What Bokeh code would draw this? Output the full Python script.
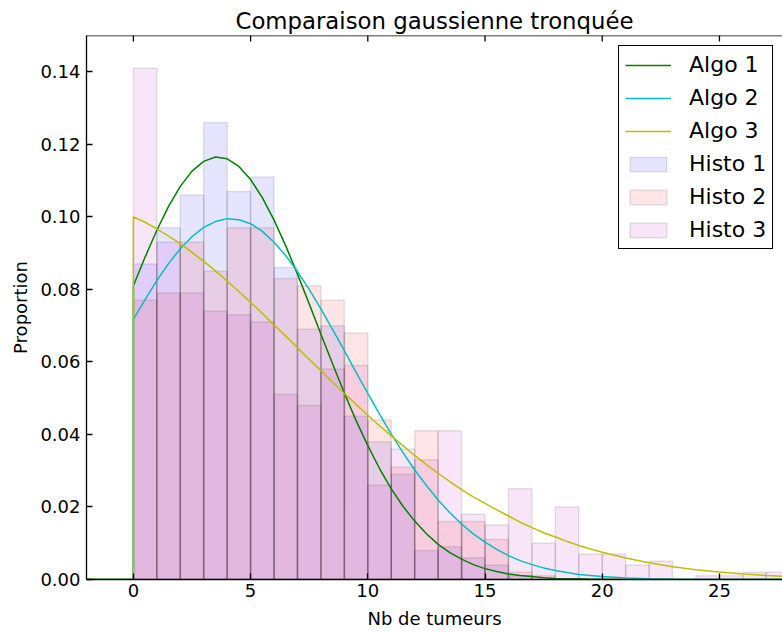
from bokeh.plotting import figure
from bokeh.models import (Range1d, Legend, LegendItem, FixedTicker,
                          PrintfTickFormatter, ColumnDataSource, Span)
from bokeh.embed import file_html
from bokeh.resources import INLINE

# ---------------- data ----------------
bin_edges = list(range(0, 29))

histo1 = [0.087, 0.097, 0.106, 0.126, 0.107, 0.111, 0.086, 0.069, 0.070, 0.045,
          0.038, 0.029, 0.008, 0.009, 0.006, 0.004, 0.001]
histo2 = [0.077, 0.079, 0.093, 0.085, 0.097, 0.097, 0.083, 0.081, 0.077, 0.068,
          0.044, 0.031, 0.041, 0.016, 0.016, 0.011, 0.002, 0.001]
histo3 = [0.141, 0.093, 0.079, 0.074, 0.073, 0.071, 0.051, 0.048, 0.058, 0.059,
          0.026, 0.036, 0.033, 0.041, 0.018, 0.015, 0.025, 0.010, 0.020, 0.007,
          0.007, 0.004, 0.005, 0.000, 0.001, 0.001, 0.002, 0.002]

curve_x = [-2.0, 0.0, 0.0, 0.5, 1.0, 1.5, 2.0, 2.5, 3.0, 3.5, 4.0, 4.5, 5.0, 5.5,
           6.0, 6.5, 7.0, 7.5, 8.0, 8.5, 9.0, 9.5, 10.0, 10.5, 11.0, 11.5, 12.0,
           12.5, 13.0, 13.5, 14.0, 14.5, 15.0, 15.5, 16.0, 16.5, 17.0, 17.5, 18.0,
           18.5, 19.0, 19.5, 20.0, 21.0, 22.0, 23.0, 24.0, 25.0, 26.0, 27.0, 28.0]
algo1 = [0.0, 0.0, 0.0810, 0.0889, 0.0963, 0.1029, 0.1084, 0.1126, 0.1153, 0.1165,
         0.1160, 0.1139, 0.1103, 0.1053, 0.0991, 0.0920, 0.0842, 0.0760, 0.0676,
         0.0594, 0.0514, 0.0438, 0.0369, 0.0306, 0.0250, 0.0202, 0.0161, 0.0126,
         0.0097, 0.0074, 0.0056, 0.0041, 0.0030, 0.0022, 0.0015, 0.0011, 0.0008,
         0.0005, 0.0003, 0.0002, 0.0002, 0.0001, 0.0001, 0.0, 0.0, 0.0, 0.0, 0.0,
         0.0, 0.0, 0.0]
algo2 = [0.0, 0.0, 0.0717, 0.0772, 0.0824, 0.0871, 0.0912, 0.0945, 0.0971, 0.0987,
         0.0995, 0.0992, 0.0981, 0.0960, 0.0930, 0.0893, 0.0849, 0.0800, 0.0746,
         0.0689, 0.0631, 0.0571, 0.0513, 0.0456, 0.0401, 0.0350, 0.0302, 0.0259,
         0.0219, 0.0184, 0.0153, 0.0126, 0.0103, 0.0083, 0.0066, 0.0052, 0.0041,
         0.0032, 0.0025, 0.0019, 0.0014, 0.0011, 0.0008, 0.0004, 0.0002, 0.0001,
         0.0, 0.0, 0.0, 0.0, 0.0]
algo3 = [0.0, 0.0, 0.1000, 0.0985, 0.0967, 0.0947, 0.0926, 0.0902, 0.0877, 0.0851,
         0.0823, 0.0794, 0.0764, 0.0734, 0.0702, 0.0671, 0.0639, 0.0607, 0.0576,
         0.0544, 0.0513, 0.0483, 0.0453, 0.0424, 0.0396, 0.0369, 0.0342, 0.0317,
         0.0293, 0.0270, 0.0248, 0.0228, 0.0210, 0.0192, 0.0175, 0.0158, 0.0143,
         0.0129, 0.0117, 0.0105, 0.0094, 0.0084, 0.0075, 0.0059, 0.0046, 0.0035,
         0.0027, 0.0021, 0.0015, 0.0011, 0.0008]

x_ticks = [0, 5, 10, 15, 20, 25]
y_ticks = [0.0, 0.02, 0.04, 0.06, 0.08, 0.10, 0.12, 0.14]
y_max = 0.15

title_text = "Comparaison gaussienne tronquée"
x_label = "Nb de tumeurs"
y_label = "Proportion"
series_labels = ["Algo 1", "Algo 2", "Algo 3", "Histo 1", "Histo 2", "Histo 3"]

FONT = "DejaVu Sans"

# ---------------- figure ----------------
p = figure(width=782, height=633, x_range=Range1d(-2, 27.69), y_range=Range1d(0, y_max),
           output_backend="svg", toolbar_location=None,
           min_border_left=86, min_border_right=0, min_border_top=35, min_border_bottom=54,
           title=title_text)
p.outline_line_color = None
p.grid.visible = False
p.background_fill_color = "white"

p.title.align = "center"
p.title.offset = 4
p.title.text_font = FONT
p.title.text_font_size = "22.8px"
p.title.text_font_style = "normal"
p.title.text_color = "black"
p.title.standoff = 4


def hist_source(vals):
    return ColumnDataSource(dict(left=bin_edges[:len(vals)],
                                 right=bin_edges[1:len(vals) + 1],
                                 top=vals, bottom=[0.0] * len(vals)))


hist_colors = ["#0000ff", "#ff0000", "#bf00bf"]
hist_renderers = []
for vals, col in zip([histo1, histo2, histo3], hist_colors):
    r = p.quad(left="left", right="right", top="top", bottom="bottom", source=hist_source(vals),
               fill_color=col, fill_alpha=0.1, line_color="black", line_alpha=0.1, line_width=1.5)
    hist_renderers.append(r)

line_colors = ["#008000", "#00bfbf", "#bfbf00"]
line_renderers = []
for ys, col in zip([algo1, algo2, algo3], line_colors):
    r = p.line(curve_x, ys, line_color=col, line_width=1.5)
    line_renderers.append(r)

# top spine with inward ticks (classic matplotlib frame)
p.add_layout(Span(location=y_max, dimension="width", line_color="black", line_width=1.3))
p.segment(x0=x_ticks, x1=x_ticks, y0=[y_max] * len(x_ticks), y1=[y_max - 0.00166] * len(x_ticks),
          line_color="black", line_width=1.3)

# axes styling
for ax in [p.xaxis[0], p.yaxis[0]]:
    ax.axis_line_color = "black"
    ax.axis_line_width = 1.3
    ax.major_tick_line_color = "black"
    ax.major_tick_line_width = 1.3
    ax.major_tick_in = 6
    ax.major_tick_out = 0
    ax.minor_tick_line_color = None
    ax.major_label_text_font = FONT
    ax.major_label_text_font_size = "18px"
    ax.major_label_text_color = "black"
    ax.axis_label_text_font = FONT
    ax.axis_label_text_font_size = "18px"
    ax.axis_label_text_font_style = "normal"
    ax.axis_label_text_color = "black"

p.xaxis.ticker = FixedTicker(ticks=x_ticks)
p.yaxis.ticker = FixedTicker(ticks=y_ticks)
p.yaxis.formatter = PrintfTickFormatter(format="%.2f")
p.xaxis.axis_label = x_label
p.yaxis.axis_label = y_label
p.xaxis.major_label_standoff = 4
p.xaxis.axis_label_standoff = 8
p.yaxis.major_label_standoff = 6
p.yaxis.axis_label_standoff = 6

items = [LegendItem(label=lab, renderers=[r])
         for lab, r in zip(series_labels, line_renderers + hist_renderers)]
legend = Legend(items=items, location=(532, 330))
legend.label_text_font = FONT
legend.label_text_font_size = "22px"
legend.label_text_color = "black"
legend.glyph_width = 46
legend.glyph_height = 18
legend.label_standoff = 18
legend.padding = 6
legend.spacing = 8
legend.margin = 0
legend.border_line_color = "black"
legend.border_line_width = 1.3
legend.border_line_alpha = 1.0
legend.background_fill_color = "white"
legend.background_fill_alpha = 1.0
p.add_layout(legend)

open("out.html", "w").write(file_html(p, INLINE))
